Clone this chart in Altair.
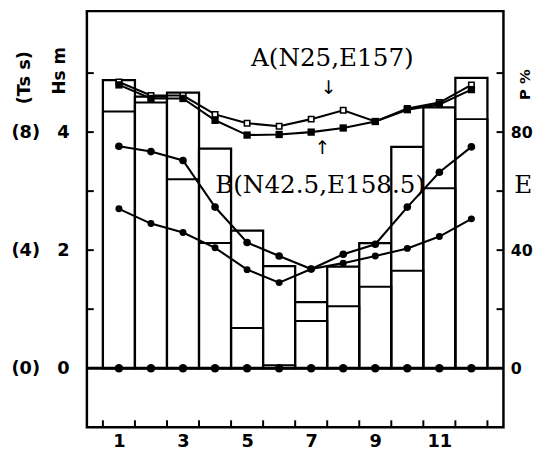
import altair as alt
import pandas as pd

# ---------------- data ----------------
months = [1, 2, 3, 4, 5, 6, 7, 8, 9, 10, 11, 12]
bar_outer = [4.88, 4.60, 4.67, 3.72, 2.33, 1.73, 1.12, 1.72, 2.12, 3.75, 4.42, 4.92]
bar_inner = [4.35, 4.50, 3.20, 2.12, 0.68, 0.05, 0.80, 1.05, 1.38, 1.65, 3.05, 4.22]
sq_a = [4.85, 4.62, 4.62, 4.30, 4.15, 4.10, 4.22, 4.37, 4.18, 4.40, 4.50, 4.80]
sq_b = [4.80, 4.57, 4.57, 4.20, 3.95, 3.96, 4.00, 4.07, 4.18, 4.38, 4.47, 4.72]
circ_up = [3.76, 3.67, 3.52, 2.73, 2.13, 1.90, 1.68, 1.93, 2.10, 2.73, 3.32, 3.75]
circ_lo = [2.70, 2.45, 2.30, 2.04, 1.67, 1.45, 1.68, 1.78, 1.90, 2.03, 2.23, 2.53]
zero_vals = [0, 0, 0, 0, 0, 0, 0, 0, 0, 0, 0, 0]

x_label_vals = [1, 3, 5, 7, 9, 11]
x_tick_vals = [0.5, 1.5, 2.5, 3.5, 4.5, 5.5, 6.5, 7.5, 8.5, 9.5, 10.5, 11.5, 12.5]
hs_label_vals = [0, 2, 4]
hs_tick_vals = [1, 2, 3, 4, 5]
ts_label_vals = [0, 4, 8]
p_label_vals = [0, 40, 80]
p_tick_vals = [20, 40, 60, 80, 100]

annot_labels = ["A(N25,E157)", "B(N42.5,E158.5)", "E"]
annot_x = [7.66, 7.28, 13.62]
annot_y = [5.25, 3.10, 3.10]
arrow_labels = ["\u2193", "\u2191"]
arrow_x = [7.54, 7.35]
arrow_y = [4.75, 3.73]

# ---------------- geometry ----------------
W = 422.5
H = 422
XDOM = [0, 13]
YDOM = [-1, 6.05]
LABEL_FONT = "DejaVu Sans"

df = pd.DataFrame({
    "month": months,
    "lo": [m - 0.5 for m in months],
    "hi": [m + 0.5 for m in months],
    "outer": bar_outer,
    "inner": bar_inner,
    "a": sq_a,
    "b": sq_b,
    "cu": circ_up,
    "cl": circ_lo,
    "z": zero_vals,
})

xs = alt.Scale(domain=XDOM, nice=False, zero=False)
ys = alt.Scale(domain=YDOM, nice=False, zero=False)

x_axis = alt.Axis(values=x_label_vals, ticks=False, domain=False, grid=False,
                  labelFont=LABEL_FONT, labelFontSize=18, labelFontWeight="bold",
                  labelColor="black", labelPadding=6, title=None)
y_axis = alt.Axis(values=hs_label_vals, orient="left", ticks=False, domain=False, grid=False,
                  labelFont=LABEL_FONT, labelFontSize=18, labelFontWeight="bold",
                  labelColor="black", labelPadding=18,
                  title="Hs m", titleFont=LABEL_FONT, titleFontSize=17, titleFontWeight="bold",
                  titleColor="black", titleAngle=270, titleX=-28, titleY=60,
                  titleAlign="center", titleBaseline="middle")


def X(field):
    return alt.X(f"{field}:Q", scale=xs, axis=x_axis)


def Y(field):
    return alt.Y(f"{field}:Q", scale=ys, axis=y_axis)


base = alt.Chart(df)

outer_bars = base.mark_rect(fill="white", stroke="black", strokeWidth=2.3).encode(
    x=X("lo"), x2="hi:Q", y=Y("outer"), y2=alt.datum(0))

inner_bars = base.mark_rect(fill="white", fillOpacity=0, stroke="black", strokeWidth=2.0).encode(
    x=X("lo"), x2="hi:Q", y=Y("inner"), y2=alt.datum(0))

zero_rule = alt.Chart(pd.DataFrame({"v": [0]})).mark_rule(color="black", strokeWidth=3).encode(
    y=Y("v"))

left_ticks = alt.Chart(pd.DataFrame({"v": hs_tick_vals})).mark_rule(color="black", strokeWidth=2).encode(
    y=Y("v"), x=alt.value(0), x2=alt.value(7))

bottom_ticks = alt.Chart(pd.DataFrame({"v": x_tick_vals})).mark_rule(color="black", strokeWidth=2).encode(
    x=X("v"), y=alt.value(H - 7), y2=alt.value(H))


def series(field, shape, filled, size):
    line = base.mark_line(color="black", strokeWidth=2.1).encode(x=X("month"), y=Y(field))
    pts = base.mark_point(shape=shape, filled=filled, size=size, color="black",
                          fill="black" if filled else "white", strokeWidth=1.6, opacity=1).encode(
        x=X("month"), y=Y(field))
    return line + pts


line_a = series("a", "square", False, 30)
line_b = series("b", "square", True, 55)
line_cu = series("cu", "circle", True, 60)
line_cl = series("cl", "circle", True, 50)

zero_pts = base.mark_point(shape="circle", filled=True, size=75, color="black", opacity=1).encode(
    x=X("month"), y=Y("z"))

annot = alt.Chart(pd.DataFrame({"t": annot_labels, "x": annot_x, "y": annot_y})).mark_text(
    font="DejaVu Serif", fontSize=25, color="black", align="center", baseline="middle").encode(
    x=X("x"), y=Y("y"), text="t:N")

arrows = alt.Chart(pd.DataFrame({"t": arrow_labels, "x": arrow_x, "y": arrow_y})).mark_text(
    font="DejaVu Sans", fontSize=19, color="black", align="center", baseline="middle").encode(
    x=X("x"), y=Y("y"), text="t:N")

main = alt.layer(outer_bars, inner_bars, zero_rule, left_ticks, bottom_ticks,
                 line_a, line_b, line_cu, line_cl, zero_pts, annot, arrows)

# Ts axis (left, outer)
ts_layer = alt.Chart(pd.DataFrame({"ts": ts_label_vals})).mark_point(opacity=0).encode(
    y=alt.Y("ts:Q", scale=alt.Scale(domain=[YDOM[0] * 2, YDOM[1] * 2], nice=False, zero=False),
            axis=alt.Axis(orient="left", offset=40, values=ts_label_vals, ticks=False, domain=False,
                          grid=False, labelExpr="'(' + datum.value + ')'",
                          labelFont=LABEL_FONT, labelFontSize=18, labelFontWeight="bold",
                          labelColor="black", labelPadding=8,
                          title="(Ts s)", titleFont=LABEL_FONT, titleFontSize=18,
                          titleFontWeight="bold", titleColor="black", titleAngle=270,
                          titleX=-23, titleY=67, titleAlign="center", titleBaseline="middle")))

# P axis (right) with inward ticks
p_layer = alt.Chart(pd.DataFrame({"p": p_tick_vals})).mark_rule(color="black", strokeWidth=2).encode(
    y=alt.Y("p:Q", scale=alt.Scale(domain=[YDOM[0] * 20, YDOM[1] * 20], nice=False, zero=False),
            axis=alt.Axis(orient="right", values=p_label_vals, ticks=False, domain=False, grid=False,
                          labelFont=LABEL_FONT, labelFontSize=16, labelFontWeight="bold",
                          labelColor="black", labelPadding=7,
                          title="P %", titleFont=LABEL_FONT, titleFontSize=15,
                          titleFontWeight="bold", titleColor="black", titleAngle=270,
                          titleX=21, titleY=74, titleAlign="center", titleBaseline="middle")),
    x=alt.value(W - 7), x2=alt.value(W))

chart = alt.layer(main, ts_layer, p_layer).resolve_scale(y="independent").properties(
    width=W, height=H,
    autosize=alt.AutoSizeParams(type="none"),
    padding={"left": 80, "top": 0, "right": 32, "bottom": 24},
    background="white",
).configure_view(stroke="black", strokeWidth=2.5)

chart.save("out.html", embed_options={"renderer": "svg", "actions": False})
